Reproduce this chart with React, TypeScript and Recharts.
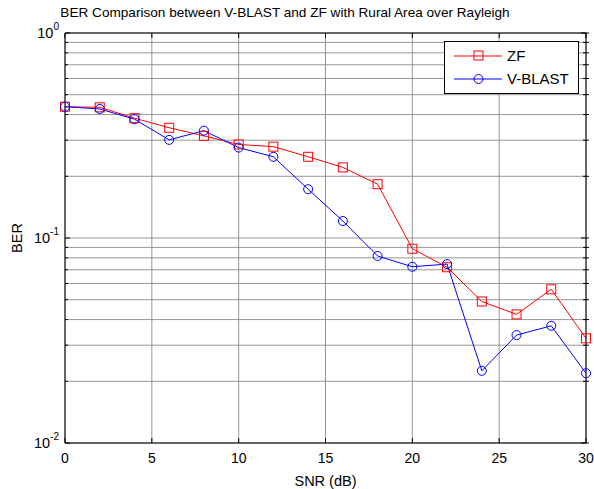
import React from 'react';
import {
  LineChart,
  Line,
  XAxis,
  YAxis,
  CartesianGrid,
  Legend,
} from 'recharts';

const snrValueList = [0, 2, 4, 6, 8, 10, 12, 14, 16, 18, 20, 22, 24, 26, 28, 30];
const zfBerList = [
  0.437, 0.434, 0.384, 0.345, 0.315, 0.286, 0.279, 0.249, 0.221, 0.183, 0.0887, 0.072, 0.049,
  0.0424, 0.0562, 0.0324,
];
const vblastBerList = [
  0.437, 0.426, 0.38, 0.301, 0.334, 0.276, 0.249, 0.173, 0.121, 0.0817, 0.0724, 0.0746, 0.0225,
  0.0336, 0.0373, 0.0219,
];
const xTickList = [0, 5, 10, 15, 20, 25, 30];
const yTickList = [
  0.01, 0.02, 0.03, 0.04, 0.05, 0.06, 0.07, 0.08, 0.09,
  0.1, 0.2, 0.3, 0.4, 0.5, 0.6, 0.7, 0.8, 0.9, 1,
];

const chartFont = '"Liberation Sans", Arial, sans-serif';
const zfColor = '#ff0000';
const vblastColor = '#0000ff';

const chartData = snrValueList.map((snr, i) => ({
  snr,
  zf: zfBerList[i],
  vblast: vblastBerList[i],
}));

function isMajorTick(value: number): boolean {
  const exponent = Math.log10(value);
  return Math.abs(exponent - Math.round(exponent)) < 1e-6;
}

function LeftTick(props: any) {
  const { x, y, payload } = props;
  const major = isMajorTick(payload.value);
  const exponent = Math.round(Math.log10(payload.value));
  return (
    <g>
      <line x1={x} x2={x + (major ? 5 : 3)} y1={y} y2={y} stroke="#000" />
      {major && (
        <text x={x - 6} y={y + 5} textAnchor="end" fontFamily={chartFont} fontSize={14.5} fill="#000">
          <tspan>10</tspan>
          <tspan dy={-8} fontSize={10}>{exponent}</tspan>
        </text>
      )}
    </g>
  );
}

function RightTick(props: any) {
  const { x, y, payload } = props;
  const major = isMajorTick(payload.value);
  return <line x1={x + 3} x2={x - (major ? 5 : 3)} y1={y} y2={y} stroke="#000" />;
}

function BottomTick(props: any) {
  const { x, y, payload } = props;
  return (
    <g>
      <line x1={x} x2={x} y1={y} y2={y - 5} stroke="#000" />
      <text x={x} y={y + 20} textAnchor="middle" fontFamily={chartFont} fontSize={14} fill="#000">
        {payload.value}
      </text>
    </g>
  );
}

function TopTick(props: any) {
  const { x, y } = props;
  return <line x1={x} x2={x} y1={y} y2={y + 5} stroke="#000" />;
}

function SeriesLegend() {
  const entryList = [
    { name: 'ZF', color: zfColor, marker: 'square' },
    { name: 'V-BLAST', color: vblastColor, marker: 'circle' },
  ];
  return (
    <div
      style={{
        background: '#fff',
        border: '1px solid #000',
        padding: '2px 4px 3px 9px',
        width: 120,
        fontFamily: chartFont,
        fontSize: 15,
        lineHeight: '15px',
      }}
    >
      {entryList.map((entry) => (
        <div key={entry.name} style={{ display: 'flex', alignItems: 'center', height: 23 }}>
          <svg width={50} height={12}>
            <line x1={0} x2={48} y1={6} y2={6} stroke={entry.color} />
            {entry.marker === 'square' ? (
              <rect x={20} y={1} width={9} height={9} fill="none" stroke={entry.color} />
            ) : (
              <circle cx={24.5} cy={6} r={4.5} fill="none" stroke={entry.color} />
            )}
          </svg>
          <span style={{ marginLeft: 3 }}>{entry.name}</span>
        </div>
      ))}
    </div>
  );
}

function SquareDot(props: any) {
  const { cx, cy, index } = props;
  return (
    <rect key={`sq-${index}`} x={cx - 4.5} y={cy - 4.5} width={9} height={9} fill="none" stroke={zfColor} />
  );
}

function CircleDot(props: any) {
  const { cx, cy, index } = props;
  return <circle key={`ci-${index}`} cx={cx} cy={cy} r={4.5} fill="none" stroke={vblastColor} />;
}

export default function App(): React.JSX.Element {
  return (
    <div style={{ position: 'absolute', left: 0, top: 0, width: 594, height: 489, background: '#fff' }}>
      <div
        style={{
          position: 'absolute',
          left: 0,
          top: 5,
          width: 570,
          textAlign: 'center',
          fontFamily: chartFont,
          fontSize: 13.6,
          color: '#000',
        }}
      >
        BER Comparison between V-BLAST and ZF with Rural Area over Rayleigh
      </div>
      <LineChart width={594} height={489} data={chartData} margin={{ top: 0, right: 0, bottom: 0, left: 0 }}>
        <CartesianGrid stroke="#8c8c8c" strokeOpacity={0.9} />
        <XAxis
          dataKey="snr"
          type="number"
          domain={[0, 30]}
          ticks={xTickList}
          height={46}
          tickSize={0}
          tickMargin={0}
          tickLine={false}
          tick={<BottomTick />}
          axisLine={{ stroke: '#000' }}
          interval={0}
          label={{
            value: 'SNR (dB)',
            position: 'insideBottom',
            offset: 3,
            style: { fontFamily: chartFont, fontSize: 14.5, fill: '#000' },
          }}
        />
        <XAxis
          xAxisId="top"
          orientation="top"
          dataKey="snr"
          type="number"
          domain={[0, 30]}
          ticks={xTickList}
          height={33}
          tickSize={0}
          tickMargin={0}
          tickLine={false}
          tick={<TopTick />}
          axisLine={{ stroke: '#000' }}
          interval={0}
        />
        <YAxis
          type="number"
          scale="log"
          domain={[0.01, 1]}
          allowDataOverflow
          ticks={yTickList}
          width={65}
          tickSize={0}
          tickMargin={0}
          tickLine={false}
          tick={<LeftTick />}
          axisLine={{ stroke: '#000' }}
          interval={0}
          label={{
            value: 'BER',
            angle: -90,
            position: 'insideLeft',
            offset: 17,
            style: { fontFamily: chartFont, fontSize: 14.5, fill: '#000', textAnchor: 'middle' },
          }}
        />
        <YAxis
          yAxisId="right"
          orientation="right"
          type="number"
          scale="log"
          domain={[0.01, 1]}
          allowDataOverflow
          ticks={yTickList}
          width={8}
          tickSize={0}
          tickMargin={0}
          tickLine={false}
          tick={<RightTick />}
          axisLine={{ stroke: '#000' }}
          interval={0}
        />
        <Legend
          layout="horizontal"
          verticalAlign="middle"
          align="center"
          content={<SeriesLegend />}
          wrapperStyle={{ position: 'absolute', left: 444, top: 41, width: 'auto' }}
        />
        <Line
          dataKey="zf"
          name="ZF"
          stroke={zfColor}
          strokeWidth={1}
          dot={SquareDot}
          activeDot={false}
          isAnimationActive={false}
        />
        <Line
          dataKey="vblast"
          name="V-BLAST"
          stroke={vblastColor}
          strokeWidth={1}
          dot={CircleDot}
          activeDot={false}
          isAnimationActive={false}
        />
      </LineChart>
    </div>
  );
}
